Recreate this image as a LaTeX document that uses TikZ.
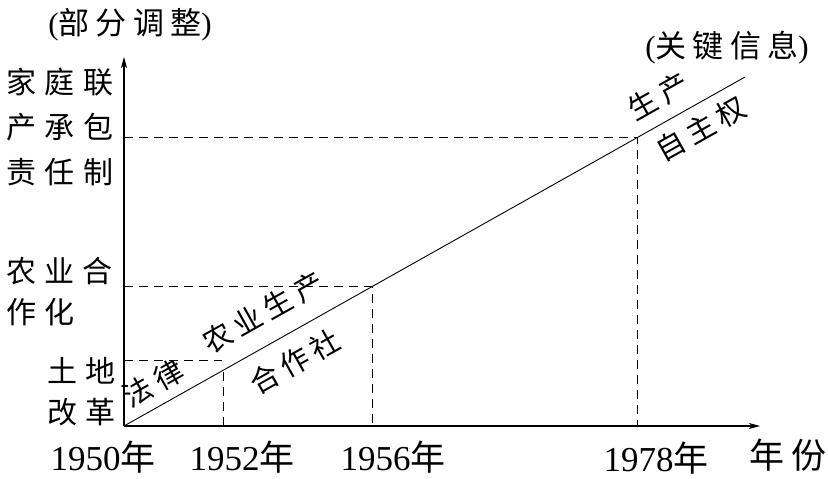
\documentclass[tikz,border=0pt]{standalone}
\usepackage{fontspec}
\setmainfont{Liberation Serif}
\newfontfamily\cjk[LetterSpace=20]{Noto Sans CJK SC}
\newfontfamily\cjkwide[LetterSpace=28]{Noto Sans CJK SC}
\usepackage{tikz}
\usetikzlibrary{arrows.meta,calc}
\tikzset{
    axis-line/.style = {draw, line width=1.1pt, -{Stealth[length=11pt, width=6pt, inset=3pt]}},
    guide-line/.style = {draw, line width=0.9pt, dash pattern=on 9pt off 6pt},
    trend-line/.style = {draw, line width=0.9pt},
    side-label/.style = {font=\fontsize{30}{45}\cjkwide, inner sep=0pt},
    year-label/.style = {font=\fontsize{35}{40}\selectfont, inner sep=0pt},
    head-label/.style = {font=\fontsize{31}{36}\selectfont, inner sep=0pt},
    slope-label/.style = {font=\fontsize{29}{34}\cjk, inner sep=0pt, sloped},
}

\begin{document}
\begin{tikzpicture}[x=1pt, y=-1pt]
\useasboundingbox (0,0) rectangle (828,479);
\coordinate (O) at (124,426);
\coordinate (top) at (124,57);
\coordinate (right) at (760,426);
\coordinate (tip) at (745,77);
\coordinate (p52) at ($(O)!0.1594!(tip)$);
\coordinate (p56) at ($(O)!0.3994!(tip)$);
\coordinate (p78) at ($(O)!0.826!(tip)$);
\coordinate (lvl) at (124,360);
\coordinate (lvlend) at (222,360);
\draw[axis-line] (O) -- (top);
\draw[axis-line] (O) -- (right);
\draw[guide-line] (lvl) -- (lvlend);
\draw[guide-line] (p52 |- O) -- (p52);
\draw[guide-line] (p56 -| O) -- (p56) -- (p56 |- O);
\draw[guide-line] (p78 -| O) -- (p78) -- (p78 |- O);
\draw[trend-line] (O) -- (tip)
    node[slope-label, pos=0.065, above=9pt] (law) {法律}
    node[slope-label, pos=0.248, above=17pt] (coopup) {农业生产}
    node[slope-label, pos=0.253, below=14pt] (coopdown) {合作社}
    node[slope-label, pos=0.881, above=12pt] (rightup) {生产}
    node[slope-label, pos=0.910, below=10pt] (rightdown) {自主权};
\node[head-label] (adjust) at (130,25) {({\cjk 部分调整})};
\node[head-label] (key) at (727,48) {({\cjk 关键信息})};
\node[side-label, align=center] (contract) at (60,127) {家庭联\\产承包\\责任制};
\node[side-label, align=left, anchor=west, font=\fontsize{30}{41}\cjkwide] (coop) at (6,292) {农业合\\作化};
\node[side-label, align=right, anchor=east, font=\fontsize{30}{41}\cjkwide] (land) at (116,392) {土地\\改革};
\node[year-label] (y50) at (103,457) {1950{\cjk 年}};
\node[year-label] (y52) at (242,457) {1952{\cjk 年}};
\node[year-label] (y56) at (393,457) {1956{\cjk 年}};
\node[year-label] (y78) at (656,458) {1978{\cjk 年}};
\node[year-label] (unit) at (788,455) {{\cjk 年份}};
\end{tikzpicture}
\end{document}
